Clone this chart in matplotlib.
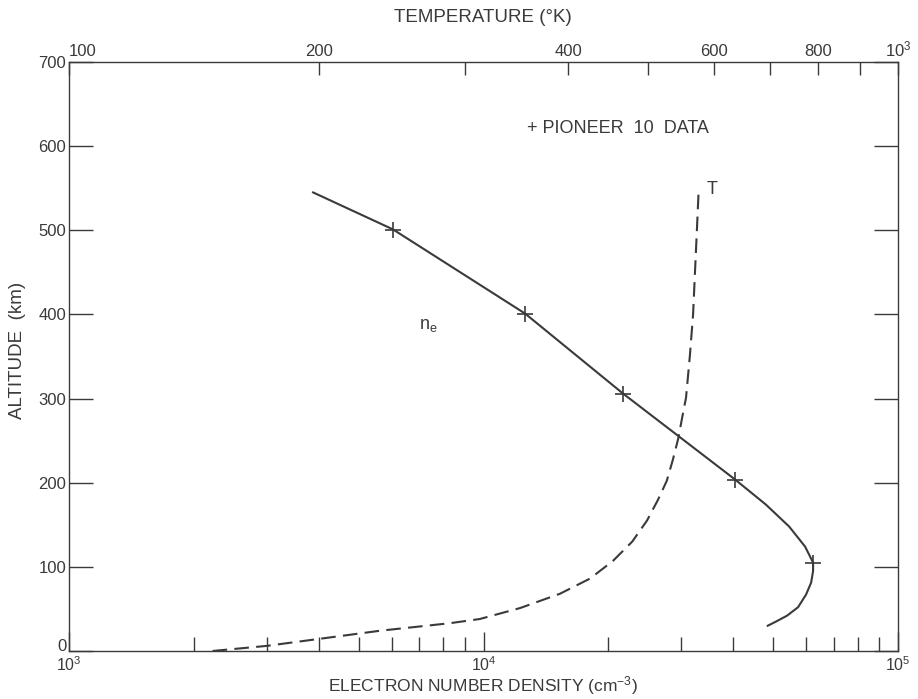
import matplotlib
matplotlib.use("Agg")
import matplotlib.pyplot as plt
from matplotlib.ticker import NullFormatter, FixedLocator
from matplotlib.transforms import ScaledTranslation

plt.rcParams['font.family'] = ['Liberation Sans', 'DejaVu Sans']
plt.rcParams['mathtext.fontset'] = 'custom'
plt.rcParams['mathtext.rm'] = 'Liberation Sans'
plt.rcParams['mathtext.it'] = 'Liberation Sans:italic'

ink = "#3a3a3a"

# electron density profile (solid)
ne_alt = [545, 501, 401, 306, 204, 174, 148, 124, 105, 95, 81, 67, 52, 42, 35, 30]
ne_val = [3.88e3, 6.05e3, 1.26e4, 2.17e4, 4.04e4, 4.80e4, 5.46e4, 5.97e4,
          6.24e4, 6.24e4, 6.17e4, 6.0e4, 5.74e4, 5.40e4, 5.08e4, 4.85e4]

# Pioneer 10 data points
pio_alt = [500, 400, 305, 203, 104]
pio_ne = [6.05e3, 1.26e4, 2.17e4, 4.04e4, 6.24e4]

# temperature profile (dashed), top axis
T_alt = [0, 6, 14, 24, 33, 38, 51, 68, 86, 107, 130, 155, 179, 202, 227,
         252, 277, 301, 351, 400, 500, 550]
T_val = [149, 173, 199, 237, 288, 313, 350, 391, 425, 453, 478, 498, 513,
         526, 535, 543, 549, 555, 561, 566, 572, 575]

fig = plt.figure(figsize=(9.18, 6.99), dpi=100)
ax = fig.add_axes([0.0752, 0.0687, 0.9030, 0.8426])

ax.plot(ne_val, ne_alt, color=ink, lw=1.5)
ax.plot(pio_ne, pio_alt, linestyle='none', marker='+', ms=11, mew=1.2, color=ink)
ax.set_xscale('log')
ax.set_xlim(1e3, 1e5)
ax.set_ylim(0, 700)

ax.set_xticks([1e3, 1e4, 1e5])
ax.set_xticklabels([r'$10^3$', r'$10^4$', r'$10^5$'])
ax.xaxis.set_minor_formatter(NullFormatter())
ax.tick_params(axis='x', which='major', direction='in', length=14, width=1,
               color=ink, labelsize=11.5, pad=3, labelcolor=ink)
ax.tick_params(axis='x', which='minor', direction='in', length=10, width=1,
               color=ink)

ax.set_yticks([0, 100, 200, 300, 400, 500, 600, 700])
ax.tick_params(axis='y', which='major', direction='in', length=17, width=1,
               color=ink, labelsize=12, pad=2, labelcolor=ink, right=True)
ax.tick_params(axis='y', which='minor', left=False, right=False)
# nudge the "0" label up so it clears the 10^3 label
lab0 = ax.get_yticklabels()[0]
lab0.set_transform(lab0.get_transform() + ScaledTranslation(0, 6 / 100, fig.dpi_scale_trans))

for s in ax.spines.values():
    s.set_color(ink)
    s.set_linewidth(1.0)

ax2 = ax.twiny()
ax2.plot(T_val, T_alt, color=ink, lw=1.5, linestyle=(0, (7, 3.5)))
ax2.set_xscale('log')
ax2.set_xlim(100, 1000)
ax2.xaxis.set_major_locator(FixedLocator([100, 200, 400, 600, 800, 1000]))
ax2.xaxis.set_minor_locator(FixedLocator([300, 500, 700, 900]))
ax2.set_xticklabels(['100', '200', '400', '600', '800', r'$10^3$'])
ax2.xaxis.set_minor_formatter(NullFormatter())
ax2.tick_params(axis='x', which='both', direction='in', length=9, width=1,
                color=ink, labelsize=12, pad=2, labelcolor=ink)
ax2.get_xticklabels()[0].set_ha('left')
for s in ax2.spines.values():
    s.set_visible(False)

ax.text(1.27e4, 621, '+ PIONEER  10  DATA', fontsize=13, color=ink,
        ha='left', va='center')
ax.text(3.56e4, 548, 'T', fontsize=13, color=ink, ha='center', va='center')
ax.text(7.35e3, 387, r'n$_\mathregular{e}$', fontsize=13, color=ink,
        ha='center', va='center')

fig.text(483 / 918, 1 - 18 / 699, 'TEMPERATURE (°K)', fontsize=13.5,
         color=ink, ha='center', va='center')
fig.text(483 / 918, 1 - 686 / 699, r'ELECTRON NUMBER DENSITY (cm$^{-3}$)',
         fontsize=12.5, color=ink, ha='center', va='center')
fig.text(18 / 918, 1 - 350 / 699, 'ALTITUDE  (km)', fontsize=13.5,
         color=ink, ha='center', va='center', rotation=90)

fig.savefig('out.png', dpi=100)
